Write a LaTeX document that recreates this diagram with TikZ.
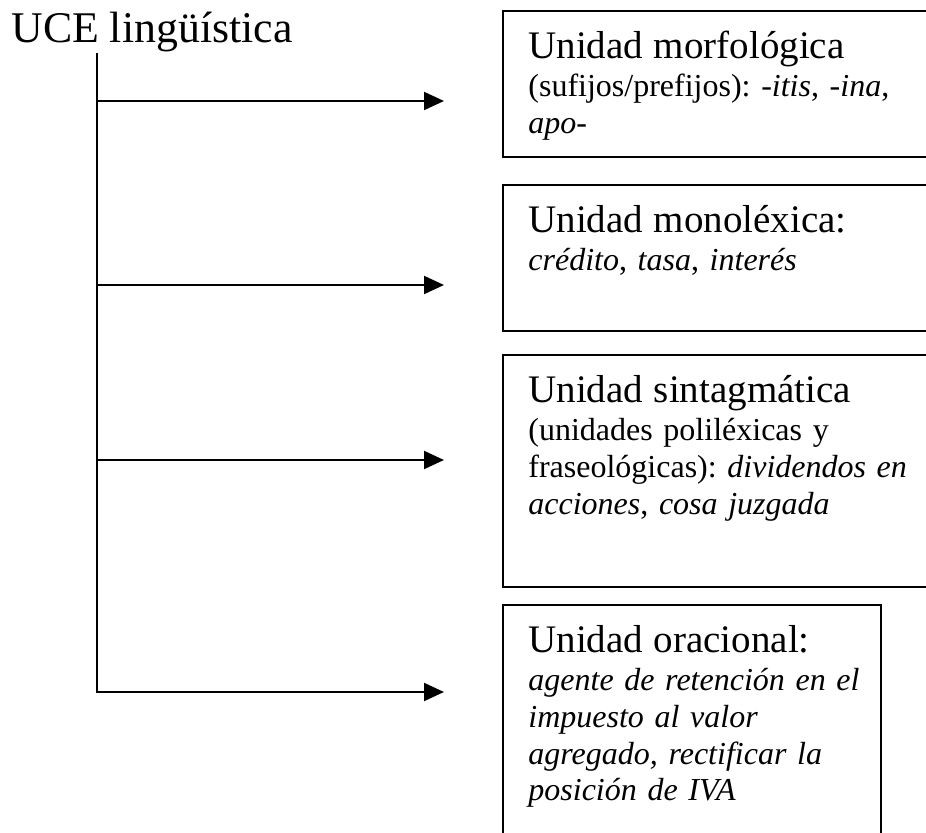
\documentclass[tikz,border=0pt]{standalone}
\usepackage{fontspec}
\setmainfont{Liberation Serif}
\usetikzlibrary{arrows.meta,positioning}
\frenchspacing

\begin{document}
\begin{tikzpicture}[x=0.5pt,y=-0.5pt]
\tikzstyle{stem}=[line width=1pt]
\tikzstyle{arrow}=[line width=1pt,-{Triangle[length=10pt,width=9pt]}]
\tikzstyle{box}=[draw=black,line width=1.2pt,rectangle,anchor=north west,inner sep=0pt]
\tikzstyle{txt}=[inner sep=0pt,align=left,text width=205pt,font=\fontsize{16}{18.4}\selectfont]
\newcommand{\head}[1]{{\fontsize{19.5}{22}\selectfont #1\par}\vspace{0.6pt}}
\path [use as bounding box,clip] (0,0) rectangle (926,833);
\node [anchor=base west,inner sep=0pt,font=\fontsize{21.9}{24}\selectfont] at (11,43) (title) {UCE lingüística};
\node [box,minimum width=217pt,minimum height=73pt] at (502,10) (b1) {};
\node [box,minimum width=217pt,minimum height=73pt] at (502,184) (b2) {};
\node [box,minimum width=217pt,minimum height=116pt] at (502,354) (b3) {};
\node [box,minimum width=189pt,minimum height=121pt] at (502,604) (b4) {};
\node [txt,below right=10.5pt and 13pt of b1.north west] (t1)
  {\head{Unidad morfológica}(sufijos/prefijos): -\textit{itis}, -\textit{ina},\\ \textit{apo}-};
\node [txt,below right=10.5pt and 13pt of b2.north west] (t2)
  {\head{Unidad monoléxica:}\textit{crédito}, \textit{tasa}, \textit{interés}};
\node [txt,below right=10.5pt and 13pt of b3.north west] (t3)
  {\head{Unidad sintagmática}(unidades poliléxicas y\\ fraseológicas): \textit{dividendos en}\\ \textit{acciones}, \textit{cosa juzgada}};
\node [txt,below right=10.5pt and 13pt of b4.north west] (t4)
  {\head{Unidad oracional:}\textit{agente de retención en el\\ impuesto al valor\\ agregado, rectificar la\\ posición de IVA}};
\coordinate (top) at (97,53);
\coordinate (j1) at (97,101);
\coordinate (j2) at (97,285);
\coordinate (j3) at (97,460);
\coordinate (e1) at (444,101);
\coordinate (e2) at (444,285);
\coordinate (e3) at (444,460);
\coordinate (e4) at (444,692);
\draw [arrow] (top) |- (e4);
\draw [arrow] (j1) -- (e1);
\draw [arrow] (j2) -- (e2);
\draw [arrow] (j3) -- (e3);
\end{tikzpicture}
\end{document}
